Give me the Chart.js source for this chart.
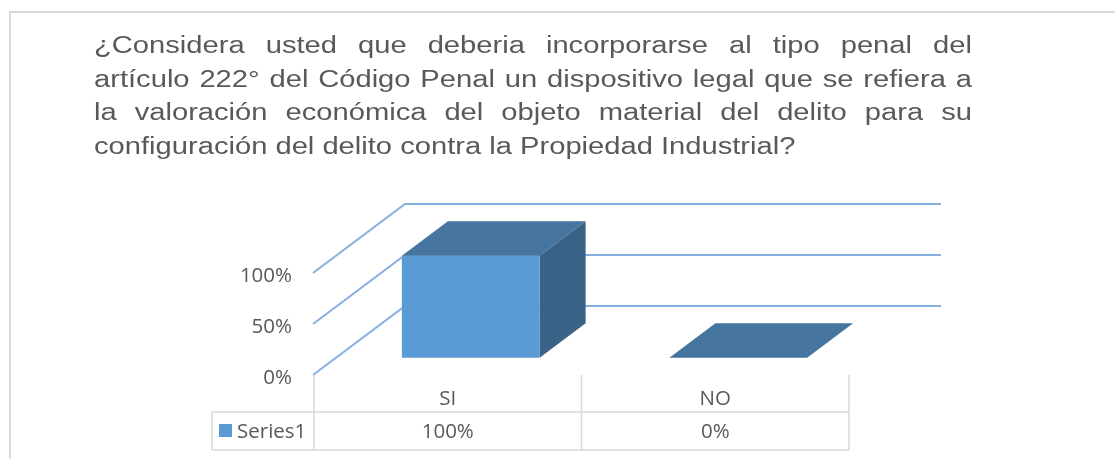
<!DOCTYPE html>
<html>
<head>
<meta charset="utf-8">
<script src="https://cdn.jsdelivr.net/npm/chart.js@4"></script>
<style>
  html, body { margin: 0; padding: 0; background: #fff; }
  body { width: 1115px; height: 459px; position: relative; overflow: hidden; }
  #frame { position: absolute; left: 9px; top: 11px; width: 1200px; height: 500px;
           border-top: 2px solid #dadada; border-left: 2px solid #dadada; }
  #title { position: absolute; left: 94px; top: 29px; width: 708px;
           font-family: "Liberation Sans", Arial, sans-serif; font-size: 23.5px;
           line-height: 33.6px; color: #595959;
           transform: scaleX(1.24); transform-origin: 0 0; }
  #title span { display: block; text-align: justify; text-align-last: justify; white-space: nowrap; }
  #title span.last { text-align-last: left; }
  #wrap { position: absolute; left: 0; top: 0; width: 1115px; height: 459px; }
</style>
</head>
<body>
<div id="frame"></div>
<div id="wrap"><canvas id="chart" width="1115" height="459"></canvas></div>
<div id="title">
  <span>¿Considera usted que deberia incorporarse al tipo penal del</span>
  <span>artículo 222° del Código Penal un dispositivo legal que se refiera a</span>
  <span>la valoración económica del objeto material del delito para su</span>
  <span class="last">configuración del delito contra la Propiedad Industrial?</span>
</div>
<script>
const categories = ['SI', 'NO'];
const seriesName = 'Series1';
const seriesValues = [100, 0];
const yTicks = [0, 50, 100];

const textColor = '#595959';
const gridColor = '#84b1e0';
const tableColor = '#d9d9d9';
const frontColor = '#5b9bd5';
const topColor = '#46759f';
const sideColor = '#3a6286';
const chartFont = '"Open Sans", sans-serif';

// depth of the 3d box (back wall offset from the front plane)
const DX = 92, DY = -69;

const plot3d = {
  id: 'plot3d',
  beforeDatasetsDraw(chart) {
    const ctx = chart.ctx;
    const area = chart.chartArea;
    const y = chart.scales.y;
    ctx.save();
    ctx.strokeStyle = gridColor;
    ctx.lineWidth = 2;
    yTicks.forEach(v => {
      const py = y.getPixelForValue(v);
      ctx.beginPath();
      ctx.moveTo(area.left - 1, py);
      ctx.lineTo(area.left - 1 + DX, py + DY);
      ctx.lineTo(area.right + DX, py + DY);
      ctx.stroke();
    });
    ctx.restore();
  },
  afterDatasetsDraw(chart) {
    const ctx = chart.ctx;
    const meta = chart.getDatasetMeta(0);
    const fx = DX * 0.25, fy = DY * 0.25;
    const bx = DX * 0.75, by = DY * 0.75;
    ctx.save();
    meta.data.forEach(bar => {
      const l = bar.x - bar.width / 2 + fx;
      const r = bar.x + bar.width / 2 + fx;
      const t = bar.y + fy;
      const b = bar.base + fy;
      const dx = bx - fx, dy = by - fy;
      // side
      ctx.fillStyle = sideColor;
      ctx.beginPath();
      ctx.moveTo(r, t); ctx.lineTo(r + dx, t + dy); ctx.lineTo(r + dx, b + dy); ctx.lineTo(r, b);
      ctx.closePath(); ctx.fill();
      // top
      ctx.fillStyle = topColor;
      ctx.beginPath();
      ctx.moveTo(l, t); ctx.lineTo(l + dx, t + dy); ctx.lineTo(r + dx, t + dy); ctx.lineTo(r, t);
      ctx.closePath(); ctx.fill();
      // front
      if (b - t > 0.5) {
        ctx.fillStyle = frontColor;
        ctx.fillRect(l, t, r - l, b - t);
      }
    });
    ctx.restore();
  },
  afterDraw(chart) {
    // data table under the plot
    const ctx = chart.ctx;
    const area = chart.chartArea;
    const n = categories.length;
    const cw = (area.right - area.left) / n;
    const top = area.bottom;
    const rowY = top + 37;
    const bottom = top + 75;
    const keyLeft = 212;
    ctx.save();
    ctx.strokeStyle = tableColor;
    ctx.lineWidth = 1.5;
    ctx.beginPath();
    for (let i = 0; i <= n; i++) {
      const x = area.left + i * cw;
      ctx.moveTo(x, top); ctx.lineTo(x, bottom);
    }
    ctx.moveTo(keyLeft, rowY); ctx.lineTo(area.right, rowY);
    ctx.moveTo(keyLeft, bottom); ctx.lineTo(area.right, bottom);
    ctx.moveTo(keyLeft, rowY); ctx.lineTo(keyLeft, bottom);
    ctx.stroke();

    ctx.fillStyle = textColor;
    ctx.font = '20.5px ' + chartFont;
    ctx.textAlign = 'center';
    ctx.textBaseline = 'middle';
    categories.forEach((c, i) => {
      const x = chart.scales.x.getPixelForValue(i);
      ctx.fillText(c, x, top + 24);
      ctx.fillText(seriesValues[i] + '%', x, rowY + 20);
    });
    ctx.fillStyle = frontColor;
    ctx.fillRect(219, rowY + 12, 13, 13);
    ctx.fillStyle = textColor;
    ctx.textAlign = 'left';
    ctx.fillText(seriesName, 237, rowY + 20);
    ctx.restore();
  }
};

new Chart(document.getElementById('chart'), {
  type: 'bar',
  data: {
    labels: categories,
    datasets: [{
      label: seriesName,
      data: seriesValues,
      backgroundColor: 'rgba(0,0,0,0)',
      borderWidth: 0,
      barPercentage: 0.515,
      categoryPercentage: 1
    }]
  },
  options: {
    responsive: false,
    animation: false,
    events: [],
    layout: { padding: { top: 273, right: 266, bottom: 0, left: 0 } },
    plugins: { legend: { display: false }, tooltip: { enabled: false }, title: { display: false } },
    scales: {
      x: {
        offset: true,
        grid: { display: false },
        border: { display: false },
        ticks: { display: false },
        afterFit(s) { s.height = 84; }
      },
      y: {
        min: 0, max: 100,
        grid: { display: false, drawTicks: false },
        border: { display: false },
        afterFit(s) { s.width = 314; },
        afterBuildTicks(s) { s.ticks = yTicks.map(v => ({ value: v })); },
        ticks: {
          padding: 22,
          labelOffset: 3,
          color: textColor,
          font: { family: chartFont, size: 20.5 },
          callback: v => v + '%'
        }
      }
    }
  },
  plugins: [plot3d]
});
</script>
</body>
</html>
